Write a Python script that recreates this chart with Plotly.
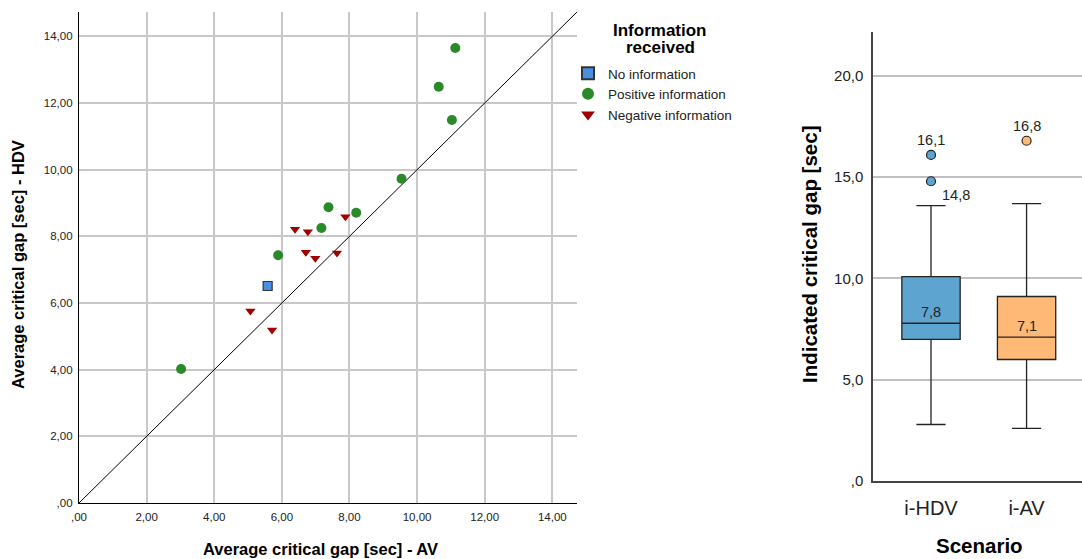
import plotly.graph_objects as go

# ---- Scatter data (left panel) ----
no_info_av = [5.58]
no_info_hdv = [6.51]

pos_info_av = [3.02, 5.89, 7.17, 7.38, 8.20, 9.54, 10.64, 11.03, 11.13]
pos_info_hdv = [4.02, 7.43, 8.25, 8.87, 8.71, 9.73, 12.49, 11.49, 13.65]

neg_info_av = [5.07, 5.71, 6.39, 6.77, 6.71, 6.99, 7.63, 7.88]
neg_info_hdv = [5.76, 5.19, 8.21, 8.14, 7.52, 7.34, 7.50, 8.59]

scatter_ticks = [0, 2, 4, 6, 8, 10, 12, 14]
scatter_ticklabels = [",00", "2,00", "4,00", "6,00", "8,00", "10,00", "12,00", "14,00"]

# ---- Box data (right panel) ----
scenarios = ["i-HDV", "i-AV"]
q1 = [6.99, 6.00]
median = [7.79, 7.10]
q3 = [10.09, 9.11]
lower_whisker = [2.79, 2.60]
upper_whisker = [13.60, 13.70]
median_labels = ["7,8", "7,1"]
outliers_hdv = [16.1, 14.8]
outliers_av = [16.8]
outlier_labels_hdv = ["16,1", "14,8"]
outlier_labels_av = ["16,8"]
box_ticks = [0, 5, 10, 15, 20]
box_ticklabels = [",0", "5,0", "10,0", "15,0", "20,0"]

box_colors = ["#5da4d1", "#ffb977"]

FONT = "Liberation Sans, Arial, sans-serif"
W, H = 1082, 559


def px(x):
    return x / W


def py(y):
    return 1 - y / H


fig = go.Figure()

# diagonal reference line (y = x)
fig.add_trace(go.Scatter(x=[0, 14.73], y=[0, 14.73], mode="lines",
                         line=dict(color="black", width=1), showlegend=False,
                         hoverinfo="skip", xaxis="x", yaxis="y"))

fig.add_trace(go.Scatter(x=no_info_av, y=no_info_hdv, mode="markers", name="No information",
                         marker=dict(symbol="square", size=9, color="#4a90e2",
                                     line=dict(color="#333333", width=1.2)),
                         xaxis="x", yaxis="y"))
fig.add_trace(go.Scatter(x=pos_info_av, y=pos_info_hdv, mode="markers", name="Positive information",
                         marker=dict(symbol="circle", size=10, color="#2a8a2a",
                                     line=dict(width=0)),
                         xaxis="x", yaxis="y"))
fig.add_trace(go.Scatter(x=neg_info_av, y=neg_info_hdv, mode="markers", name="Negative information",
                         marker=dict(symbol="triangle-down", size=9, color="#a00000",
                                     line=dict(width=0)),
                         xaxis="x", yaxis="y"))

# boxes
for i, s in enumerate(scenarios):
    fig.add_trace(go.Box(x=[s], q1=[q1[i]], median=[median[i]], q3=[q3[i]],
                         lowerfence=[lower_whisker[i]], upperfence=[upper_whisker[i]],
                         fillcolor=box_colors[i], line=dict(color="#222222", width=1.3),
                         width=0.61, whiskerwidth=0.5, boxpoints=False,
                         showlegend=False, hoverinfo="skip", xaxis="x2", yaxis="y2"))

# outliers
fig.add_trace(go.Scatter(x=[scenarios[0]] * len(outliers_hdv), y=outliers_hdv, mode="markers",
                         marker=dict(size=9, color=box_colors[0], line=dict(color="#222222", width=1.2)),
                         showlegend=False, hoverinfo="skip", xaxis="x2", yaxis="y2"))
fig.add_trace(go.Scatter(x=[scenarios[1]] * len(outliers_av), y=outliers_av, mode="markers",
                         marker=dict(size=9, color=box_colors[1], line=dict(color="#222222", width=1.2)),
                         showlegend=False, hoverinfo="skip", xaxis="x2", yaxis="y2"))

lab_font = dict(size=14.5, color="#222222", family=FONT)
annots = []
# outlier labels
annots.append(dict(x=scenarios[0], y=outliers_hdv[0], text=outlier_labels_hdv[0], xref="x2", yref="y2",
                   showarrow=False, yshift=15, font=lab_font))
annots.append(dict(x=scenarios[0], y=outliers_hdv[1], text=outlier_labels_hdv[1], xref="x2", yref="y2",
                   showarrow=False, yshift=-14, xshift=25, font=lab_font))
annots.append(dict(x=scenarios[1], y=outliers_av[0], text=outlier_labels_av[0], xref="x2", yref="y2",
                   showarrow=False, yshift=15, font=lab_font))
# median labels
for i, s in enumerate(scenarios):
    annots.append(dict(x=s, y=median[i], text=median_labels[i], xref="x2", yref="y2",
                       showarrow=False, yshift=11, font=lab_font))

title_font = dict(color="black", family=FONT)
# legend title (two lines)
annots.append(dict(x=px(660), y=py(30), text="<b>Information</b>", xref="paper", yref="paper",
                   showarrow=False, xanchor="center", yanchor="middle",
                   font=dict(size=17, **title_font)))
annots.append(dict(x=px(660), y=py(47), text="<b>received</b>", xref="paper", yref="paper",
                   showarrow=False, xanchor="center", yanchor="middle",
                   font=dict(size=17, **title_font)))
# axis titles
annots.append(dict(x=px(320), y=py(549), text="<b>Average critical gap [sec] - AV</b>", xref="paper",
                   yref="paper", showarrow=False, xanchor="center", yanchor="middle",
                   font=dict(size=16.5, **title_font)))
annots.append(dict(x=px(18), y=py(265), text="<b>Average critical gap [sec] - HDV</b>", xref="paper",
                   yref="paper", showarrow=False, xanchor="center", yanchor="middle", textangle=-90,
                   font=dict(size=16.5, **title_font)))
annots.append(dict(x=px(809), y=py(255), text="<b>Indicated critical gap [sec]</b>", xref="paper",
                   yref="paper", showarrow=False, xanchor="center", yanchor="middle", textangle=-90,
                   font=dict(size=20.5, **title_font)))
annots.append(dict(x=px(979), y=py(545), text="<b>Scenario</b>", xref="paper",
                   yref="paper", showarrow=False, xanchor="center", yanchor="middle",
                   font=dict(size=20.5, **title_font)))

fig.update_layout(
    annotations=annots,
    width=W, height=H,
    margin=dict(l=0, r=0, t=0, b=0),
    paper_bgcolor="white", plot_bgcolor="white",
    font=dict(family=FONT, color="#222222"),
    legend=dict(x=px(568), y=py(58), xanchor="left", yanchor="top",
                font=dict(size=13.5, color="#222222", family=FONT),
                itemsizing="constant", tracegroupgap=0, itemwidth=30,
                bgcolor="rgba(0,0,0,0)"),
    xaxis=dict(domain=[px(79), px(577)], range=[0, 14.73], anchor="y", automargin=False,
               tickvals=scatter_ticks, ticktext=scatter_ticklabels,
               showgrid=True, gridcolor="#c8c8c8", gridwidth=1.5,
               showline=True, linecolor="black", linewidth=1.3,
               ticks="", zeroline=False, tickfont=dict(size=11.5, color="#222222"),
               ticklabelstandoff=3),
    yaxis=dict(domain=[py(503), py(12)], range=[0, 14.73], anchor="x", automargin=False,
               tickvals=scatter_ticks, ticktext=scatter_ticklabels,
               showgrid=True, gridcolor="#c8c8c8", gridwidth=1.5,
               showline=True, linecolor="black", linewidth=1.3,
               ticks="", zeroline=False, tickfont=dict(size=11.5, color="#222222"),
               ticklabelstandoff=3),
    xaxis2=dict(domain=[px(873), 1.0], anchor="y2", type="category", automargin=False,
                categoryorder="array", categoryarray=scenarios,
                range=[-0.607, 1.58], showgrid=False,
                showline=True, linecolor="#444444", linewidth=1.5,
                ticks="", tickfont=dict(size=20, color="#222222"),
                ticklabelstandoff=8),
    yaxis2=dict(domain=[py(481), py(32)], anchor="x2", range=[0, 22.17], automargin=False,
                tickvals=box_ticks, ticktext=box_ticklabels,
                showgrid=True, gridcolor="#c0c0c0", gridwidth=1.5,
                showline=True, linecolor="#444444", linewidth=1.5,
                ticks="", zeroline=False, tickfont=dict(size=15, color="#222222"),
                ticklabelstandoff=5),
)

fig.write_html("out.html")
